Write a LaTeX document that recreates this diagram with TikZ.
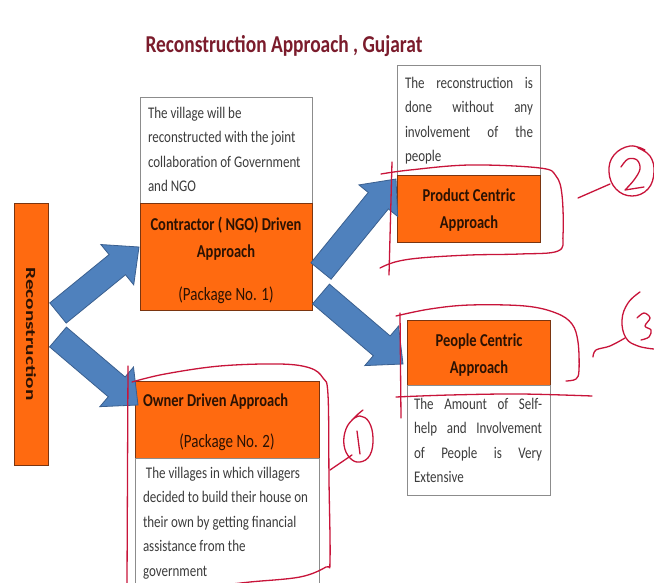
\documentclass[tikz,border=0pt]{standalone}
\usepackage{fontspec}
\setmainfont{Carlito}
\usetikzlibrary{calc}
\definecolor{orng}{HTML}{FF6A10}
\definecolor{orngedge}{HTML}{7A3510}
\definecolor{boxedge}{HTML}{8C8C8C}
\definecolor{bluefill}{HTML}{4F81BD}
\definecolor{blueedge}{HTML}{3A5F8F}
\definecolor{titlered}{HTML}{7B1C2C}
\definecolor{pen}{HTML}{C8143A}
\definecolor{darktext}{HTML}{2B1203}
\definecolor{graytext}{HTML}{3C3C3C}
\tikzset{
  orangebox/.style={fill=orng, draw=orngedge, line width=0.8pt, inner sep=0pt, outer sep=0pt, anchor=north west},
  whitebox/.style={fill=white, draw=boxedge, line width=0.6pt, inner sep=0pt, outer sep=0pt, anchor=north west},
  stretched/.style={yscale=1.25, inner sep=0pt, outer sep=0pt},
  bodytext/.style={stretched, font=\fontsize{13}{19.6}\selectfont, text=graytext, align=left, anchor=north west},
  headtext/.style={stretched, font=\fontsize{14.5}{21.5}\bfseries\selectfont, text=darktext, align=center},
  pkgtext/.style={stretched, font=\fontsize{15}{18}\selectfont, text=darktext},
  redpen/.style={draw=pen, line width=1.3pt, line cap=round, line join=round},
  blockarrow/.style={fill=bluefill, draw=blueedge, line width=0.8pt, line join=miter},
}
\newcommand{\blockarr}[4]{% tail, tip, shaft half width, head half width
  \coordinate (#1-c) at ($(#2)!28pt!(#1)$);
  \filldraw[blockarrow] ($(#1)!#3!90:(#2)$) -- ($(#1-c)!#3!90:(#2)$) -- ($(#1-c)!#4!90:(#2)$) -- (#2)
    -- ($(#1-c)!#4!-90:(#2)$) -- ($(#1-c)!#3!-90:(#2)$) -- ($(#1)!#3!-90:(#2)$) -- cycle;}
\begin{document}
\begin{tikzpicture}[x=1pt,y=-1pt]
\useasboundingbox (0,0) rectangle (654,583);
\clip (0,0) rectangle (654,583);
\fill[white] (0,0) rectangle (654,583);

% title
\node[stretched, font=\fontsize{19.4}{23}\bfseries\selectfont, text=titlered] (title) at (284,46) {Reconstruction Approach , Gujarat};

% boxes
\node[orangebox, minimum width=34pt, minimum height=262pt] (recon) at (14,203) {};
\node[whitebox, minimum width=172pt, minimum height=106pt] (w1) at (140,97) {};
\node[orangebox, minimum width=172pt, minimum height=107pt] (contractor) at (140,203) {};
\node[whitebox, minimum width=143pt, minimum height=110pt] (w2) at (397,65) {};
\node[orangebox, minimum width=143pt, minimum height=67pt] (product) at (397,175) {};
\node[orangebox, minimum width=143pt, minimum height=65pt] (people) at (407,320) {};
\node[whitebox, minimum width=143pt, minimum height=110pt] (w3) at (407,385) {};
\node[orangebox, minimum width=184pt, minimum height=77pt] (owner) at (135,381) {};
\node[whitebox, minimum width=184pt, minimum height=140pt] (w4) at (135,458) {};

% arrows
\coordinate (a1t) at (58,313);  \coordinate (a1h) at (139,247);
\coordinate (a2t) at (58,337);  \coordinate (a2h) at (138,405);
\coordinate (a3t) at (321,271); \coordinate (a3h) at (396,179);
\coordinate (a4t) at (321,294); \coordinate (a4h) at (403,364);
\blockarr{a1t}{a1h}{13pt}{26pt}
\blockarr{a2t}{a2h}{13pt}{26pt}
\blockarr{a3t}{a3h}{13pt}{25pt}
\blockarr{a4t}{a4h}{13pt}{26pt}

% texts
\node[rotate=-90, font=\fontsize{14}{16}\bfseries\selectfont, text=darktext, inner sep=0pt] (recontext) at (31,334) {\scalebox{1.52}[1]{Reconstruction}};
\node[headtext] (contractortext) at (226,239) {Contractor ( NGO) Driven\\Approach};
\node[pkgtext] (pkg1) at (226,295) {(Package No. 1)};
\node[headtext] (producttext) at (469,210) {Product Centric\\Approach};
\node[headtext] (peopletext) at (479,355) {People Centric\\Approach};
\node[headtext, anchor=west] (ownertext) at (143,402) {Owner Driven Approach};
\node[pkgtext] (pkg2) at (227,442) {(Package No. 2)};

\node[bodytext] (t1) at (148,107) {The village will be\\reconstructed with the joint\\collaboration of Government\\and NGO};
\node[bodytext] (t2) at (405,77) {\makebox[128pt][s]{The reconstruction is}\\\makebox[128pt][s]{done without any}\\\makebox[128pt][s]{involvement of the}\\people};
\node[bodytext] (t3) at (414,398) {\makebox[128pt][s]{The Amount of Self-}\\\makebox[128pt][s]{help and Involvement}\\\makebox[128pt][s]{of People is Very}\\Extensive};
\node[bodytext] (t4) at (143,467) {\ The villages in which villagers\\decided to build their house on\\their own by getting financial\\assistance from the\\government};

% red pen annotations
% product
\draw[redpen] (392,162) -- (389,275);
\draw[redpen] plot[smooth, tension=0.6] coordinates {(381,174) (410,170) (470,165) (540,168) (556,176) (562,195) (563,235) (558,251) (520,254) (470,255) (420,258) (395,262) (380,268)};
\draw[redpen] (578,198) -- (610,184);
\draw[redpen] plot[smooth, tension=0.7] coordinates {(645,150) (630,146) (614,155) (609,172) (616,189) (632,196) (648,189) (654,172) (650,156) (638,148)};
\draw[redpen] plot[smooth, tension=0.6] coordinates {(621,167) (628,159) (637,160) (640,169) (634,180) (625,190)} -- (644,187);
% people
\draw[redpen] (400,313) -- (401,418);
\draw[redpen] plot[smooth, tension=0.6] coordinates {(396,316) (430,309) (470,305) (525,306) (556,313) (572,324) (578,342) (579,370) (576,379) (566,381)};
\draw[redpen] plot[smooth, tension=0.6] coordinates {(396,397) (450,395) (520,394) (592,396)};
\draw[redpen] plot[smooth, tension=0.6] coordinates {(593,357) (596,350) (610,346) (625,338)};
\draw[redpen] plot[smooth, tension=0.7] coordinates {(640,292) (628,303) (622,320) (626,338) (638,346) (654,349)};
\draw[redpen] plot[smooth, tension=0.6] coordinates {(637,318) (644,313) (650,318) (645,326) (651,330) (649,337) (641,340)};
% owner
\draw[redpen] (128,366) -- (127,583);
\draw[redpen] plot[smooth, tension=0.6] coordinates {(132,382) (165,374) (220,366) (280,364) (310,368) (323,378) (328,395) (329,480) (330,560) (326,567) (300,577) (250,582) (215,586)};
\draw[redpen] plot[smooth, tension=0.7] coordinates {(363,410) (354,418) (346,429) (344,445) (350,458) (360,462) (370,455) (373,438) (369,422) (360,416) (352,420)};
\draw[redpen] (357,431) -- (360,454);
\draw[redpen] (330,470) -- (352,455);
\end{tikzpicture}
\end{document}
